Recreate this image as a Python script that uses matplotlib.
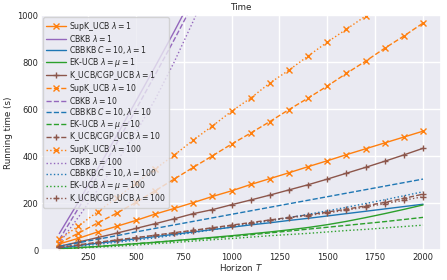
import numpy as np
import matplotlib
matplotlib.use("Agg")
import matplotlib.pyplot as plt
import seaborn as sns

T = np.arange(100, 2001, 100)

# running times (s), lambda = 1 / 10 / 100
supk_1 = [26, 50, 77, 101, 126, 153, 177, 202, 228, 252, 279, 304, 329, 355, 380, 406, 431, 456, 481, 506]
supk_10 = [30, 72, 115, 157, 203, 252, 302, 352, 401, 451, 498, 547, 598, 647, 698, 752, 804, 859, 911, 966]
supk_100 = [45, 102, 163, 222, 285, 345, 404, 468, 528, 591, 647, 711, 766, 826, 885, 940, 996, 1053, 1110, 1168]

cbkb_1 = [70, 205, 345, 488, 633, 780, 930, 1085, 1245, 1410, 1580, 1755, 1935, 2120, 2310, 2505, 2705, 2910, 3120, 3335]
cbkb_10 = [45, 178, 315, 455, 598, 745, 895, 1050, 1210, 1375, 1545, 1720, 1900, 2085, 2275, 2470, 2670, 2875, 3085, 3300]
cbkb_100 = [30, 140, 255, 375, 500, 640, 800, 975, 1160, 1350, 1545, 1745, 1950, 2160, 2375, 2595, 2820, 3050, 3285, 3525]

cbbkb_1 = [9, 19, 29, 38, 48, 57, 67, 77, 87, 97, 107, 116, 126, 135, 145, 155, 165, 175, 185, 195]
cbbkb_10 = [16, 31, 46, 61, 77, 92, 107, 122, 137, 152, 167, 182, 197, 212, 227, 242, 257, 272, 287, 302]
cbbkb_100 = [8, 16, 24, 33, 42, 52, 63, 74, 86, 98, 111, 124, 138, 152, 167, 182, 198, 214, 231, 248]

ek_1 = [5, 10, 15, 21, 27, 33, 40, 47, 54, 61, 69, 77, 86, 96, 108, 122, 138, 155, 173, 192]
ek_10 = [5, 10, 15, 21, 27, 33, 39, 45, 51, 58, 65, 73, 81, 89, 97, 105, 113, 121, 130, 139]
ek_100 = [4, 8, 12, 16, 21, 27, 32, 38, 44, 49, 55, 61, 66, 71, 77, 83, 88, 94, 100, 106]

kucb_1 = [16, 34, 53, 72, 92, 112, 133, 155, 172, 193, 213, 234, 256, 278, 302, 327, 352, 378, 405, 433]
kucb_10 = [11, 22, 33, 43, 53, 63, 74, 84, 95, 106, 117, 128, 139, 150, 162, 174, 188, 203, 220, 238]
kucb_100 = [12, 22, 32, 42, 52, 62, 72, 83, 93, 104, 115, 126, 137, 147, 158, 170, 183, 197, 212, 227]

lambdas = [1, 10, 100]
styles = ["-", "--", ":"]

sns.set_theme(style="darkgrid")
plt.rcParams["font.family"] = ["DejaVu Sans"]

fig, ax = plt.subplots(figsize=(4.47, 2.8), dpi=100)
fig.subplots_adjust(left=0.092, right=0.987, top=0.946, bottom=0.107)

data = {
    1: [supk_1, cbkb_1, cbbkb_1, ek_1, kucb_1],
    10: [supk_10, cbkb_10, cbbkb_10, ek_10, kucb_10],
    100: [supk_100, cbkb_100, cbbkb_100, ek_100, kucb_100],
}

orange, purple, blue, green, brown = "#ff7f0e", "#9467bd", "#1f77b4", "#2ca02c", "#8c564b"

for lam, ls in zip(lambdas, styles):
    s, cb, cbb, ek, ku = data[lam]
    ax.plot(T, s, ls, color=orange, marker="x", markersize=4, lw=1.0,
            label=r"SupK_UCB $\lambda=%d$" % lam)
    ax.plot(T, cb, ls, color=purple, lw=1.0, label=r"CBKB $\lambda=%d$" % lam)
    ax.plot(T, cbb, ls, color=blue, lw=1.0, label=r"CBBKB $C=10, \lambda=%d$" % lam)
    ax.plot(T, ek, ls, color=green, lw=1.0, label=r"EK-UCB $\lambda=\mu=%d$" % lam)
    ax.plot(T, ku, ls, color=brown, marker="+", markersize=5, lw=1.0,
            label=r"K_UCB/CGP_UCB $\lambda=%d$" % lam)

ax.set_ylim(0, 1000)
ax.set_xticks([250, 500, 750, 1000, 1250, 1500, 1750, 2000])
ax.tick_params(labelsize=6, pad=2, length=0)
ax.set_title("Time", fontsize=6.3, pad=4)
ax.set_xlabel("Horizon $T$", fontsize=6.3, labelpad=0)
ax.set_ylabel("Running time (s)", fontsize=6.3, labelpad=3)
ax.legend(loc="upper left", fontsize=5.6, handlelength=2.6, labelspacing=0.0,
          borderaxespad=0.25, borderpad=0.35, handletextpad=0.4)

fig.savefig("out.png", dpi=100)
